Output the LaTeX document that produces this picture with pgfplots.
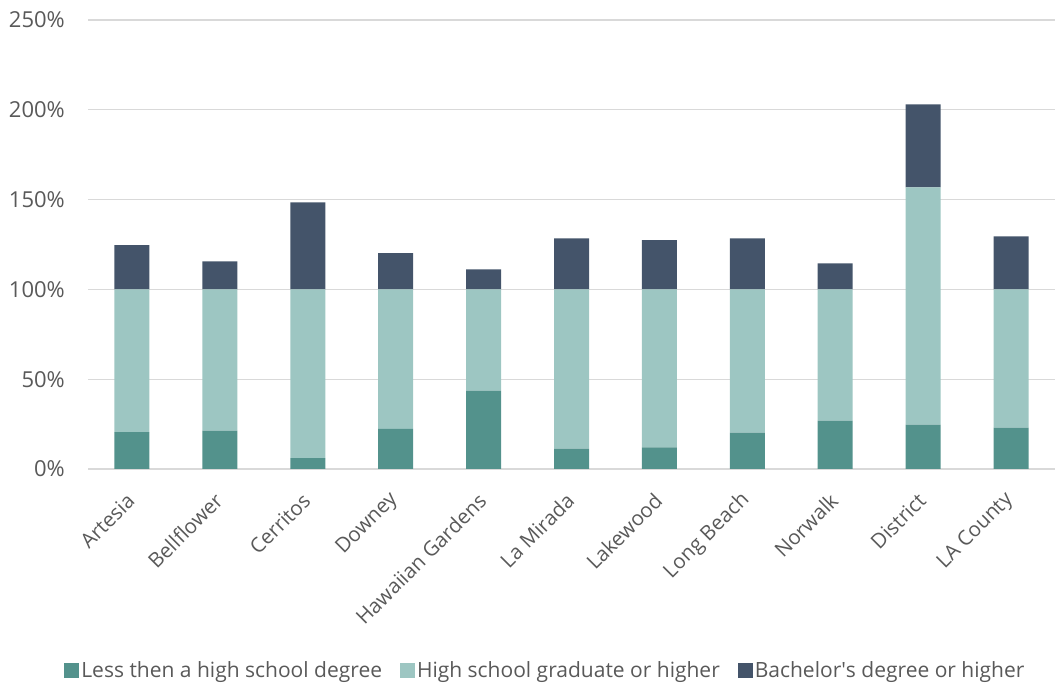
\documentclass[border=0pt]{standalone}
\usepackage{pgfplots}
\usepackage{pgfplotstable}
\pgfplotsset{compat=1.18}
\usepackage{fontspec}
\setmainfont{Open Sans}

\definecolor{lessHS}{HTML}{53928C}
\definecolor{hsGrad}{HTML}{9DC6C2}
\definecolor{bach}{HTML}{44546A}
\definecolor{gridgray}{HTML}{D9D9D9}
\definecolor{labelgray}{HTML}{595959}

% Educational attainment by city (percent of adults)
\pgfplotstableread{
x  less   hs     ba
0  20.6   79.4   24.7
1  21.3   78.7   15.6
2  6.1    93.9   48.4
3  22.3   77.7   20.2
4  43.6   56.4   11.1
5  11.3   88.7   28.4
6  12.1   87.9   27.5
7  20.2   79.8   28.4
8  26.9   73.1   14.5
9  24.7   132.1  46.2
10 23.0   77.0   29.5
}\edudata

\begin{document}
\begin{tikzpicture}
\useasboundingbox (0,0) rectangle (1063bp,686bp);
\begin{axis}[
  at={(88bp,217bp)}, anchor=south west,
  scale only axis, width=967bp, height=449bp,
  ybar stacked, bar width=35bp,
  xmin=-0.5, xmax=10.5, ymin=0, ymax=250,
  xtick={0,...,10},
  xticklabels={Artesia,Bellflower,Cerritos,Downey,Hawaiian Gardens,La Mirada,Lakewood,Long Beach,Norwalk,District,LA County},
  ytick={0,50,...,250},
  yticklabel={\pgfmathprintnumber{\tick}\%},
  /pgf/number format/assume math mode=true,
  ymajorgrids,
  grid style={draw=gridgray, line width=1.3bp},
  axis x line*=bottom, axis y line*=left,
  x axis line style={draw=gridgray, line width=1.3bp, -},
  y axis line style={draw=none},
  major tick length=0pt,
  tick label style={text=labelgray},
  yticklabel style={font=\fontsize{22bp}{26bp}\selectfont, anchor=east, inner sep=0pt, xshift=-23bp},
  xticklabel style={font=\fontsize{20.5bp}{24bp}\selectfont, anchor=east, inner sep=0pt, xshift=-1bp, yshift=-28bp, rotate=45},
  legend style={at={(0.473,0)}, anchor=center, yshift=-201bp, draw=none,
    font=\fontsize{21bp}{25bp}\selectfont, text=labelgray,
    legend columns=3,
    nodes={inner sep=2bp},
    /tikz/every even column/.append style={column sep=16bp}},
  legend image code/.code={\fill[#1] (0bp,-7.5bp) rectangle (15bp,7.5bp);},
  legend cell align=left,
]
\addplot[fill=lessHS, draw=none] table[x=x, y=less] {\edudata};
\addplot[fill=hsGrad, draw=none] table[x=x, y=hs] {\edudata};
\addplot[fill=bach, draw=none] table[x=x, y=ba] {\edudata};
\legend{Less then a high school degree, High school graduate or higher, Bachelor\textquotesingle s degree or higher}
\end{axis}
\end{tikzpicture}
\end{document}
